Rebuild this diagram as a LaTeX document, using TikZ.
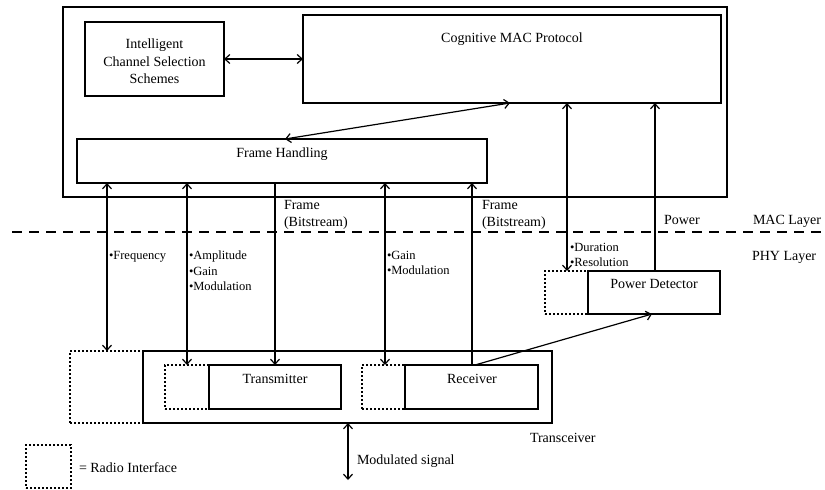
\documentclass[tikz,border=0pt]{standalone}
\usepackage{fontspec}
\setmainfont{Liberation Serif}
\usetikzlibrary{arrows.meta,fit}
\begin{document}
\begin{tikzpicture}[x=1pt,y=-1pt,
  every node/.style={inner sep=0pt, outer sep=0pt},
  solidbox/.style={draw, line width=2pt, rectangle, fill=white},
  radiobox/.style={draw, line width=2pt, dash pattern=on 2pt off 2pt, rectangle},
  main/.style={font=\fontsize{14}{17.5}\selectfont},
  boxtext/.style={main, anchor=north, align=center},
  small/.style={font=\fontsize{12.5}{15.5}\selectfont, align=left, anchor=north west},
  plain/.style={main, align=left, anchor=north west},
  wire/.style={line width=1.2pt},
  arr/.style={wire, -{Straight Barb[length=5pt,width=9pt]}},
  darr/.style={wire, {Straight Barb[length=5pt,width=9pt]}-{Straight Barb[length=5pt,width=9pt]}},
]
\useasboundingbox (0,0) rectangle (825,490);

% ---------------- MAC layer ----------------
\node[solidbox, fit={(63,7) (727,197)}] (mac) {};
\node[solidbox, fit={(85,22) (224,96)}] (ics) {};
\node[solidbox, fit={(303,15) (721,103)}] (cmac) {};
\node[solidbox, fit={(77,139) (487,183)}] (fh) {};

\node[boxtext] (icsT) at (154.5,39) {Intelligent\\Channel Selection\\Schemes};
\node[boxtext] (cmacT) at (512,33) {Cognitive MAC Protocol};
\node[boxtext] (fhT) at (282,148) {Frame Handling};

% ---------------- layer separator ----------------
\coordinate (sepL) at (12,232);
\coordinate (sepR) at (825,232);
\draw[line width=2pt, dash pattern=on 10pt off 7pt] (sepL) -- (sepR);
\node[plain] (macL) at (753,215) {MAC Layer};
\node[plain] (phyL) at (752,251) {PHY Layer};

% ---------------- PHY layer ----------------
\node[radiobox, fit={(70,351) (143,423)}] (bigri) {};
\node[solidbox, fit={(143,351) (552,423)}] (trx) {};
\node[radiobox, fit={(165,365) (209,409)}] (txri) {};
\node[solidbox, fit={(209,365) (341,409)}] (tx) {};
\node[radiobox, fit={(362,365) (405,409)}] (rxri) {};
\node[solidbox, fit={(405,365) (538,409)}] (rx) {};
\node[radiobox, fit={(545,271) (588,314)}] (pdri) {};
\node[solidbox, fit={(588,271) (720,314)}] (pd) {};

\node[boxtext] (txT) at (275,374) {Transmitter};
\node[boxtext] (rxT) at (472,374) {Receiver};
\node[boxtext] (pdT) at (654,279) {Power Detector};
\node[plain] (trxT) at (530,433) {Transceiver};

% legend
\node[radiobox, fit={(26,445) (71,488)}] (legend) {};
\node[plain] (legendT) at (79,463) {= Radio Interface};

% ---------------- connectors ----------------
\coordinate (c1) at (107,0);
\coordinate (c2) at (187,0);
\coordinate (c3) at (275,0);
\coordinate (c4) at (385,0);
\coordinate (c5) at (472,0);
\coordinate (c6) at (567,0);
\coordinate (c7) at (655,0);
\coordinate (fhd) at (285,0);
\coordinate (cmd) at (510,0);
\coordinate (rxd) at (475,0);
\coordinate (pdd) at (652,0);
\coordinate (mod) at (348,0);
\coordinate (modEnd) at (348,480);

\draw[darr] (ics.east) -- (cmac.west |- ics.east);
\draw[darr] (fh.north -| fhd) -- (cmac.south -| cmd);
\draw[darr] (fh.south -| c1) -- (bigri.north -| c1);
\draw[darr] (fh.south -| c2) -- (txri.north -| c2);
\draw[arr]  (fh.south -| c3) -- (tx.north -| c3);
\draw[darr] (fh.south -| c4) -- (rxri.north -| c4);
\draw[arr]  (rx.north -| c5) -- (fh.south -| c5);
\draw[darr] (cmac.south -| c6) -- (pdri.north -| c6);
\draw[arr]  (pd.north -| c7) -- (cmac.south -| c7);
\draw[arr]  (rx.north -| rxd) -- (pd.south -| pdd);
\draw[darr] (trx.south -| mod) -- (modEnd);

% ---------------- connector labels ----------------
\node[small] (lFreq) at (109,251) {•Frequency};
\node[small] (lTx) at (189,251) {•Amplitude\\•Gain\\•Modulation};
\node[plain] (lFr1) at (284,200) {Frame\\(Bitstream)};
\node[small] (lRx) at (387,251) {•Gain\\•Modulation};
\node[plain] (lFr2) at (482,200) {Frame\\(Bitstream)};
\node[small] (lPd) at (570,243) {•Duration\\•Resolution};
\node[plain] (lPow) at (664,215) {Power};
\node[plain] (lMod) at (357,455) {Modulated signal};
\end{tikzpicture}
\end{document}
